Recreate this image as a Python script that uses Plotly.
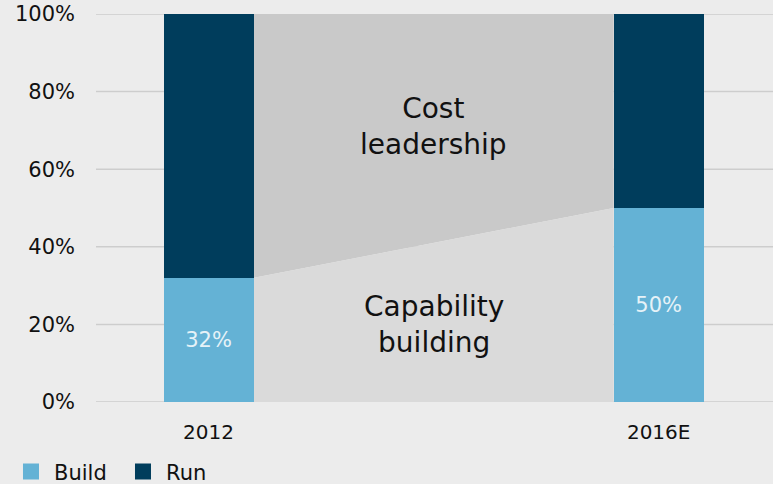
import plotly.graph_objects as go

years = ["2012", "2016E"]
build = [32, 50]
run = [68, 50]
build_labels = ["32%", "50%"]
region_labels = ["Cost<br>leadership", "Capability<br>building"]
region_y = [71, 20]
yticks = [0, 20, 40, 60, 80, 100]
ytick_labels = ["0%", "20%", "40%", "60%", "80%", "100%"]

BUILD_C = "#64b2d5"
RUN_C = "#003d5c"
BG = "#ececec"
GRID = "#cdcdcd"
FONT = "DejaVu Sans, sans-serif"

xpos = list(range(len(years)))
bw = 0.2

fig = go.Figure()
fig.add_trace(go.Bar(x=xpos, y=build, name="Build", marker_color=BUILD_C, width=bw,
                     marker_line_width=0, showlegend=False,
                     text=build_labels, textposition="inside", insidetextanchor="middle",
                     textfont=dict(color="#e6f2f8", size=21, family=FONT)))
fig.add_trace(go.Bar(x=xpos, y=run, name="Run", marker_color=RUN_C, width=bw,
                     marker_line_width=0, hoverinfo="skip", showlegend=False))
# legend entries with larger square swatches
for nm, col in [("Build", BUILD_C), ("Run", RUN_C)]:
    fig.add_trace(go.Scatter(x=[None], y=[None], mode="markers", name=nm,
                             marker=dict(symbol="square", size=16, color=col)))

x0 = xpos[0] + bw / 2
x1 = xpos[1] - bw / 2
total = [b + r for b, r in zip(build, run)]
# upper region: cost leadership
fig.add_shape(type="path", xref="x", yref="y", layer="below", line_width=0,
              fillcolor="#c9c9c9",
              path=f"M {x0},{build[0]} L {x1},{build[1]} L {x1},{total[1]} L {x0},{total[0]} Z")
# lower region: capability building
fig.add_shape(type="path", xref="x", yref="y", layer="below", line_width=0,
              fillcolor="#dadada",
              path=f"M {x0},0 L {x1},0 L {x1},{build[1]} L {x0},{build[0]} Z")
# gridlines drawn over the shaded regions, under the bars
for t in yticks:
    fig.add_shape(type="line", xref="paper", yref="y", layer="below",
                  x0=0, x1=1, y0=t, y1=t, line=dict(color=GRID, width=1.5))

xmid = (xpos[0] + xpos[1]) / 2
for txt, yy in zip(region_labels, region_y):
    fig.add_annotation(x=xmid, y=yy, xref="x", yref="y", text=txt, showarrow=False,
                       font=dict(size=28, color="#111111", family=FONT))

fig.update_layout(
    barmode="stack",
    width=773, height=484,
    margin=dict(l=96, r=0, t=14, b=82),
    paper_bgcolor=BG, plot_bgcolor=BG,
    font=dict(family=FONT, color="#111111", size=20),
    showlegend=True,
    legend=dict(orientation="h", traceorder="normal", x=-0.13, xanchor="left",
                yref="container", y=0.025, yanchor="middle",
                font=dict(size=21), itemwidth=36, entrywidth=61,
                bgcolor="rgba(0,0,0,0)"),
    xaxis=dict(range=[-0.25, 1.254], tickvals=xpos, ticktext=years, showgrid=False,
               zeroline=False, showline=False, tickfont=dict(size=20),
               ticklabelstandoff=16),
    yaxis=dict(range=[0, 100], tickvals=yticks, ticktext=ytick_labels, showgrid=False,
               zeroline=False, showline=False,
               ticklabelstandoff=20, tickfont=dict(size=21)),
)

fig.write_html("out.html")
